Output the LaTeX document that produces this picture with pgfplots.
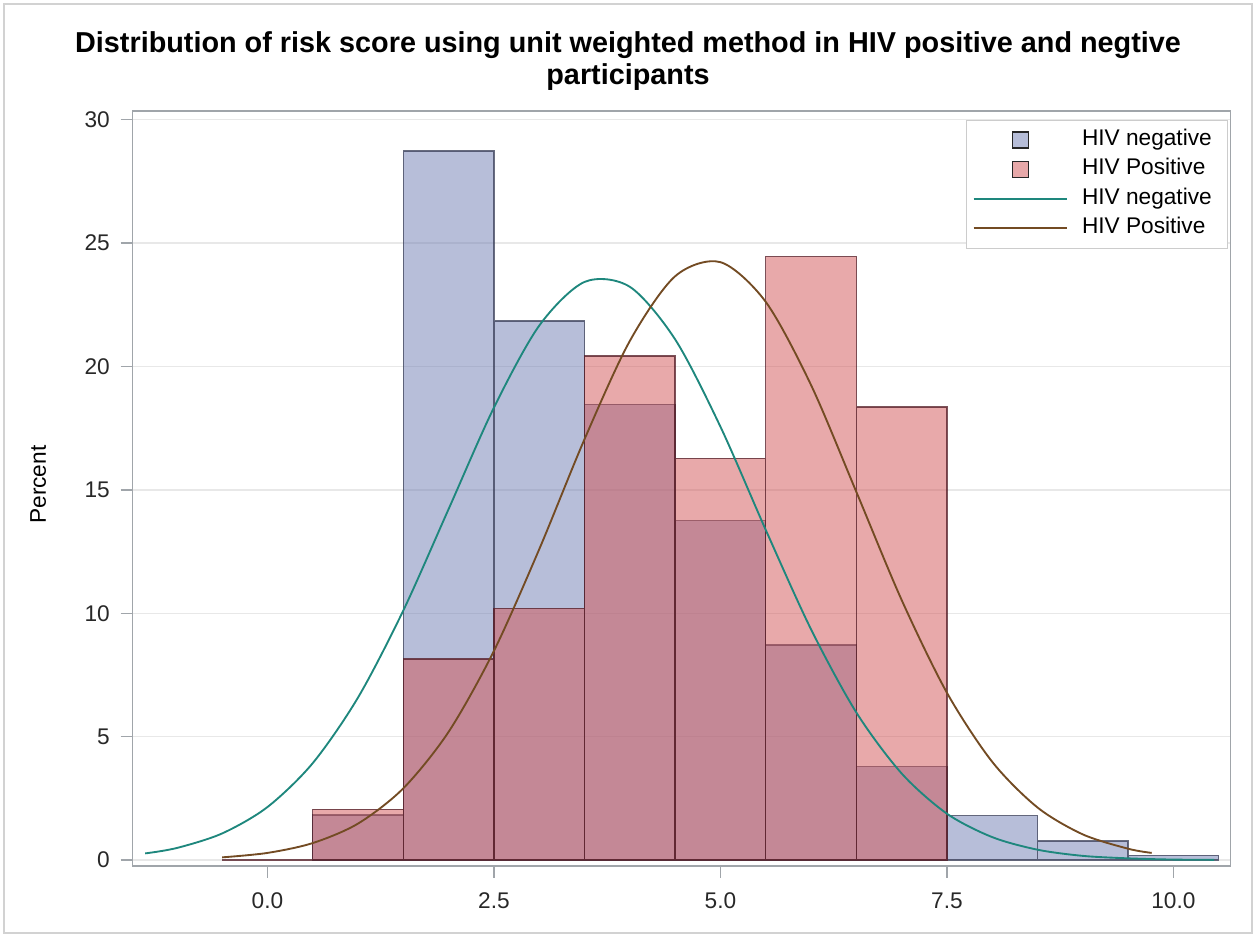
\documentclass[border=0pt]{standalone}
\usepackage{pgfplots}
\pgfplotsset{compat=1.18}
\usepackage{fontspec}
\setmainfont{Liberation Sans}

\definecolor{negfill}{RGB}{111,125,179}
\definecolor{posfill}{RGB}{209,83,85}
\definecolor{negedge}{RGB}{55,60,85}
\definecolor{posedge}{RGB}{80,25,35}
\definecolor{negline}{RGB}{30,135,125}
\definecolor{posline}{RGB}{115,75,35}
\definecolor{framegray}{RGB}{160,165,170}
\definecolor{labelgray}{RGB}{40,40,40}

% pixel position of the reference -> picture coordinates (plot box lower left at px 132.5,866)
\newcommand{\px}[2]{({(#1-132.5)*0.75pt},{(866-#2)*0.75pt})}

\begin{document}
\begin{tikzpicture}
\useasboundingbox \px{0}{937} rectangle \px{1256}{0};
\draw[gray!35, line width=1pt] \px{4}{933} rectangle \px{1252}{4};

\begin{axis}[
    at={(0,0)}, anchor=south west,
    scale only axis,
    width=823.5pt, height=566.5pt,
    xmin=-1.49, xmax=10.63,
    ymin=-0.24, ymax=30.37,
    xtick={0,2.5,5,7.5,10},
    ytick={0,5,10,15,20,25,30},
    xtick pos=bottom, ytick pos=left,
    /pgf/number format/assume math mode=true,
    ticklabel style={font=\fontsize{17}{18}\selectfont, text=labelgray},
    xticklabel style={yshift=-7.5pt, /pgf/number format/.cd, fixed, fixed zerofill, precision=1},
    yticklabel style={xshift=-4.5pt},
    tick align=outside,
    major tick length=9pt,
    tick style={framegray, line width=1pt},
    axis line style={framegray, line width=1.3pt},
    ymajorgrids,
    grid style={gray!18, line width=1pt},
    ylabel={Percent},
    ylabel style={at={(axis description cs:-0.086,0.505)}, anchor=center,
                  font=\fontsize{17}{18}\selectfont},
    title={Distribution of risk score using unit weighted method in HIV positive and negtive\\participants},
    title style={at={(axis description cs:0.4513,1.055)}, anchor=center, align=center,
                 font=\fontsize{21.6}{24}\bfseries},
    legend style={at={(rel axis cs:0.998,0.988)}, anchor=north east,
                  draw=gray!40, line width=0.8pt,
                  font=\fontsize{17}{18}\selectfont,
                  inner xsep=5pt, inner ysep=4pt, row sep=0pt, column sep=3.5pt,
                  nodes={text height=13pt, text depth=5pt, inner ysep=2pt, inner xsep=7pt}},
    legend cell align=left,
]
\addplot[ybar interval, fill=negfill, fill opacity=0.5, draw=negedge, draw opacity=0.75,
         line width=1pt,
         legend image code/.code={\path[draw=none, fill=none] (0pt,0pt) -- (70pt,0pt);
            \draw[fill=negfill, draw=black!85, draw opacity=1, line width=1.2pt] (29pt,-6pt) rectangle (41pt,6pt);}]
coordinates {
    (0.5,1.82) (1.5,28.74) (2.5,21.85) (3.5,18.47) (4.5,13.75) (5.5,8.72)
    (6.5,3.78) (7.5,1.80) (8.5,0.77) (9.5,0.19) (10.5,0.19)
};
\addlegendentry{HIV negative}

\addplot[ybar interval, fill=posfill, fill opacity=0.5, draw=posedge, draw opacity=0.75,
         line width=1pt,
         legend image code/.code={\path[draw=none, fill=none] (0pt,0pt) -- (70pt,0pt);
            \draw[fill=posfill, draw=black!85, draw opacity=1, line width=1.2pt] (29pt,-6pt) rectangle (41pt,6pt);}]
coordinates {
    (-0.5,0) (0.5,2.05) (1.5,8.15) (2.5,10.2) (3.5,20.43) (4.5,16.28)
    (5.5,24.45) (6.5,18.36) (7.5,0)
};
\addlegendentry{HIV Positive}

\addplot[negline, line width=1.4pt, smooth,
         legend image code/.code={\draw[negline, line width=1.4pt] (0pt,0pt) -- (70pt,0pt);}]
coordinates {
    (-1.35,0.27) (-1.0,0.49) (-0.5,1.08) (0.0,2.15) (0.5,3.93) (1.0,6.59)
    (1.5,10.12) (2.0,14.23) (2.5,18.34) (3.0,21.66) (3.5,23.43)
    (4.0,23.23) (4.5,21.10) (5.0,17.56) (5.5,13.38) (6.0,9.35) (6.5,5.98)
    (7.0,3.51) (7.5,1.88) (8.0,0.93) (8.5,0.42) (9.0,0.17) (9.5,0.07)
    (10.0,0.02) (10.45,0.01)
};
\addlegendentry{HIV negative}

\addplot[posline, line width=1.4pt, smooth,
         legend image code/.code={\draw[posline, line width=1.4pt] (0pt,0pt) -- (70pt,0pt);}]
coordinates {
    (-0.5,0.11) (0.0,0.29) (0.5,0.69) (1.0,1.48) (1.5,2.91) (2.0,5.20)
    (2.5,8.48) (3.0,12.60) (3.5,17.06) (4.0,21.04) (4.5,23.66)
    (5.0,24.23) (5.5,22.62) (6.0,19.25) (6.5,14.92) (7.0,10.54) (7.5,6.78)
    (8.0,3.98) (8.5,2.13) (9.0,1.04) (9.5,0.46) (9.76,0.29)
};
\addlegendentry{HIV Positive}
\end{axis}
\end{tikzpicture}
\end{document}
